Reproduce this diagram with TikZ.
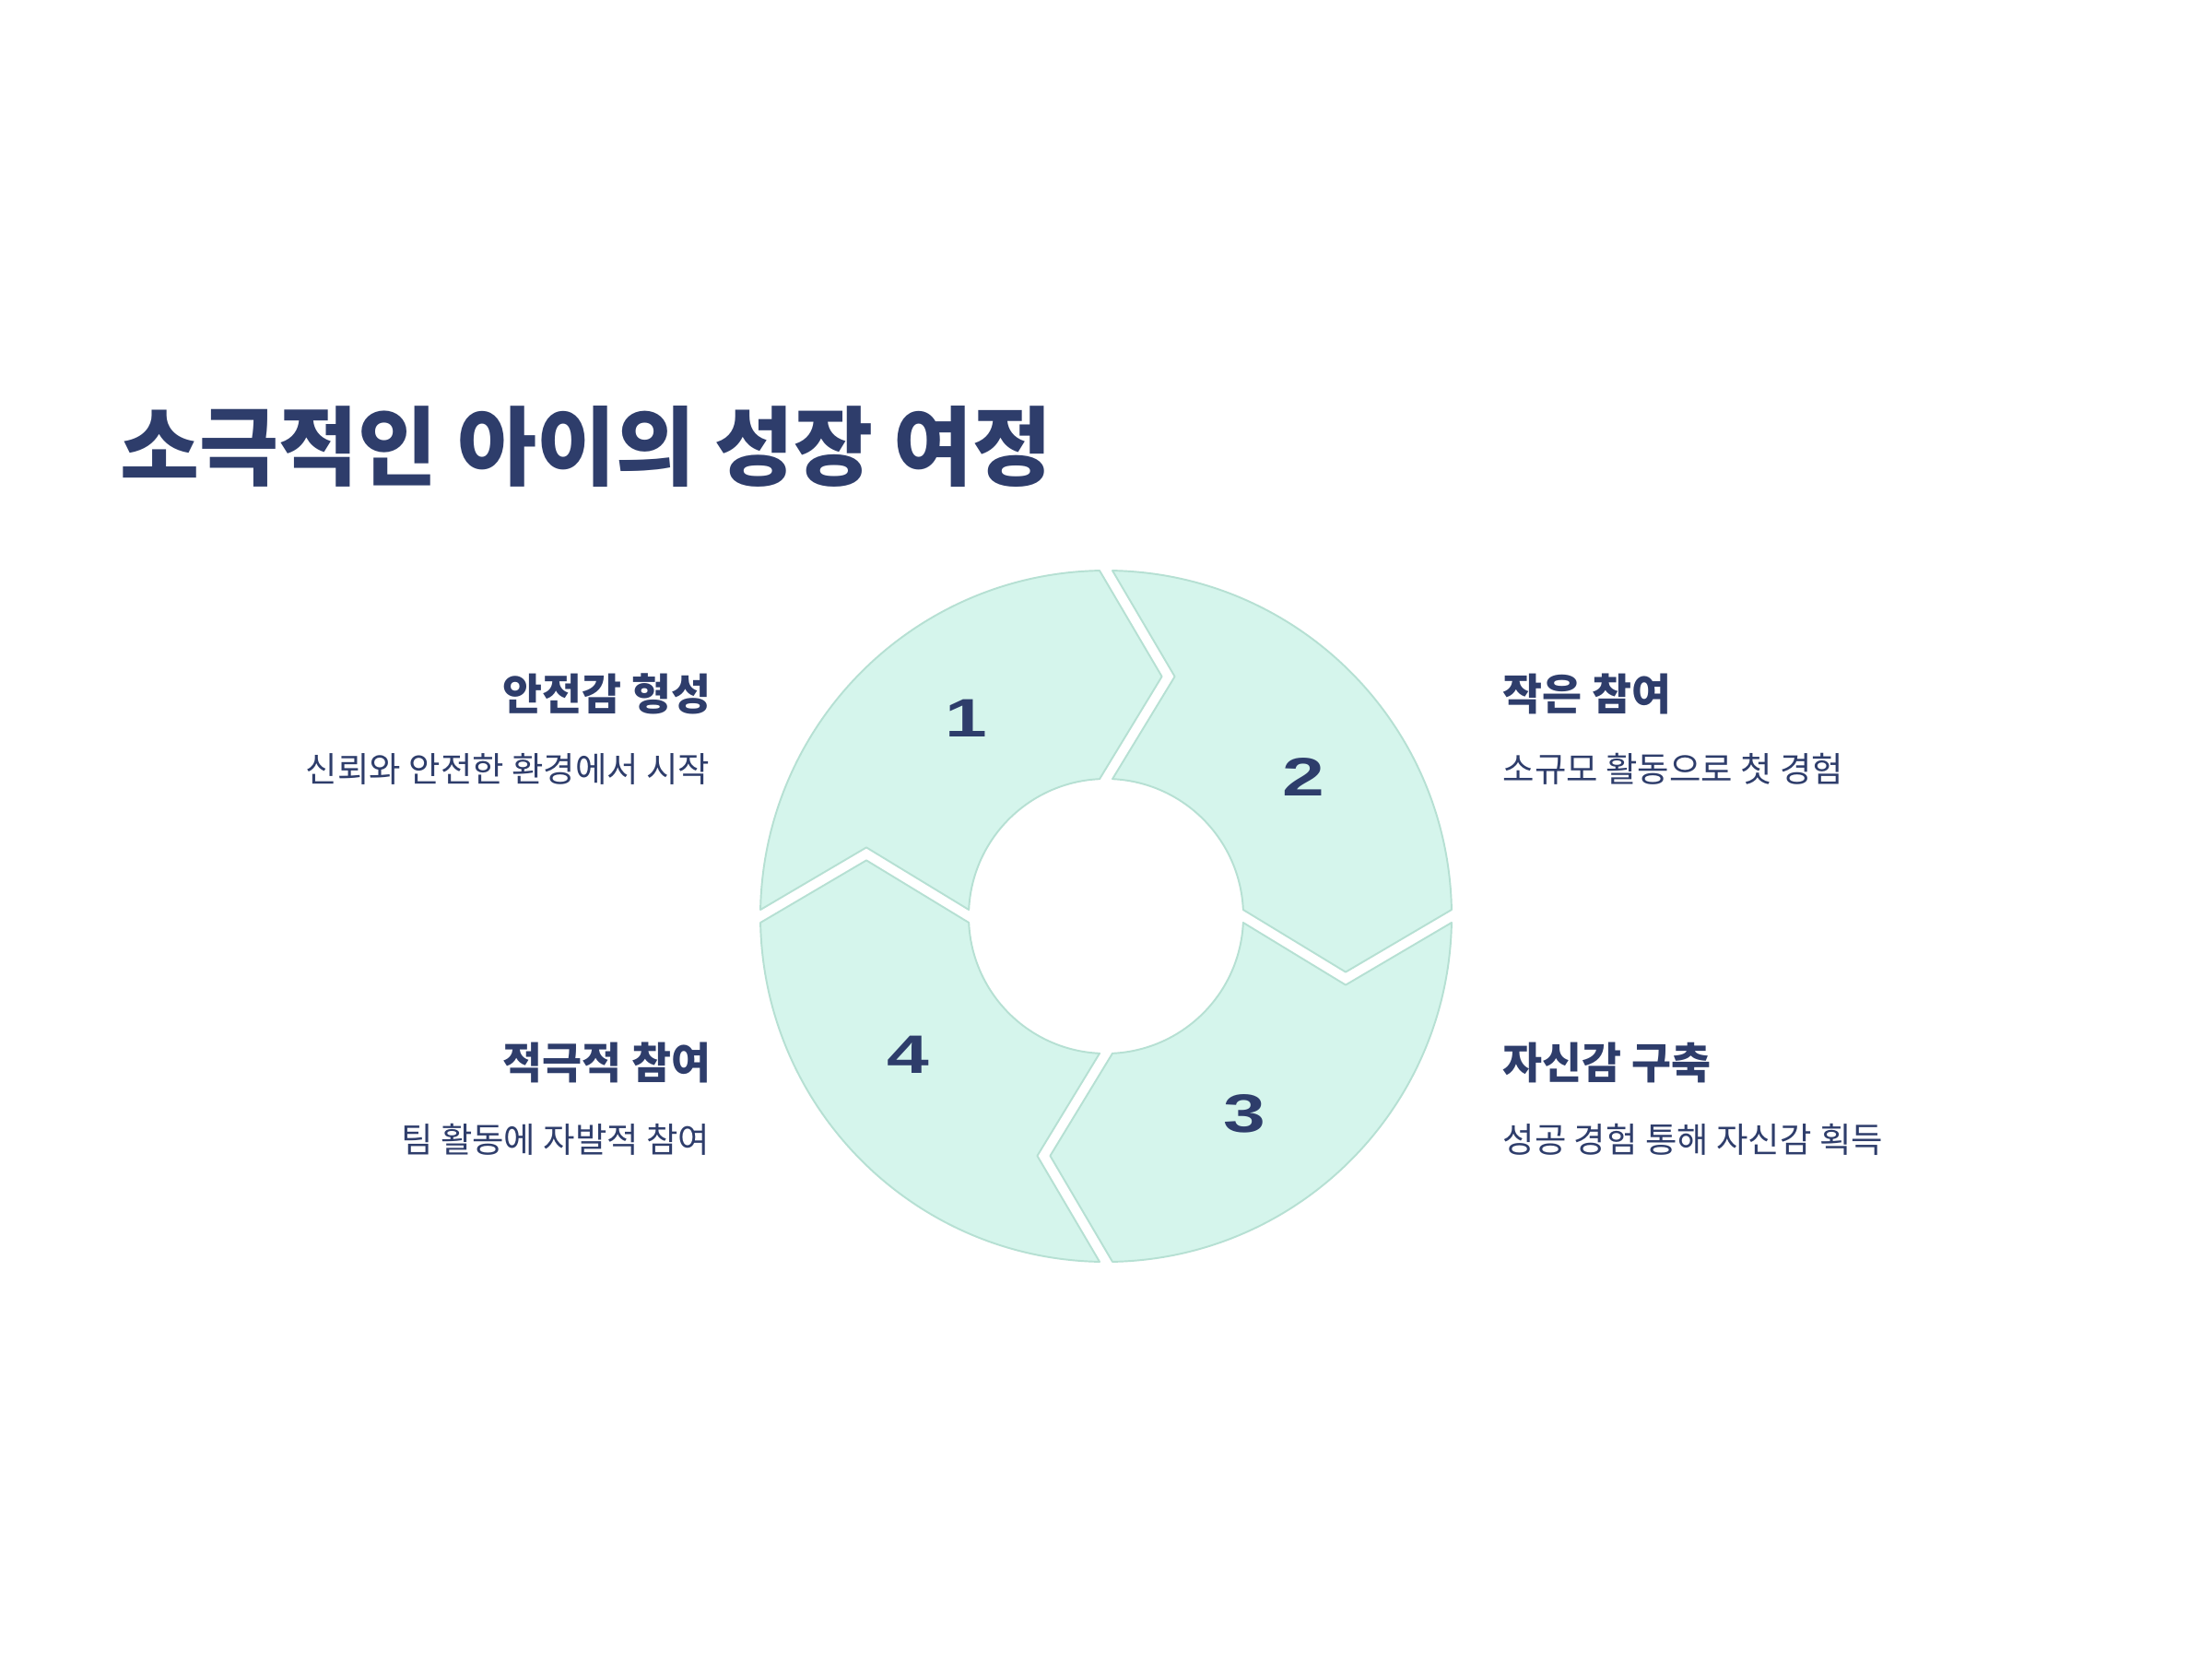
\documentclass[tikz,border=0pt]{standalone}
\usepackage{fontspec}
\setmainfont{Noto Sans CJK KR}
\newfontfamily\numfont{Liberation Sans}
\definecolor{navy}{HTML}{2E3D6B}
\definecolor{mint}{HTML}{D5F5EC}
\definecolor{mintline}{HTML}{B6E0D3}
\tikzset{
  seg/.style={fill=mint, draw=mintline, line width=0.55pt, line join=round},
  ttl/.style={inner sep=0pt, text=navy, font=\fontsize{26.6}{30}\selectfont\bfseries},
  head/.style={inner sep=0pt, text=navy, font=\fontsize{13.3}{16}\selectfont\bfseries},
  sub/.style={inner sep=0pt, text=navy, font=\fontsize{10.65}{13}\selectfont},
  num/.style={inner sep=0pt, text=navy, font=\numfont\fontsize{16.7}{20}\selectfont\bfseries}
}
\begin{document}
\begin{tikzpicture}
\useasboundingbox[fill=white] (0,0) rectangle (24,18);
% ring
\begin{scope}[shift={(12,8.06)}]
  \foreach \k in {0,1,2,3}{
    \begin{scope}[rotate=-90*\k]
      \path[seg] (177.31:1.49) -- (-2.60,0.746) -- (178.93:3.75)
        arc[start angle=178.93, end angle=91.07, radius=3.75]
        -- (0.606,2.60) -- (92.69:1.49)
        arc[start angle=92.69, end angle=177.31, radius=1.49] -- cycle;
    \end{scope}
  }
  \node[num] (n1) at (-1.515,2.145) {\scalebox{1.4}[1]{1}};
  \node[num] (n2) at (2.14,1.51) {\scalebox{1.4}[1]{2}};
  \node[num] (n3) at (1.505,-2.14) {\scalebox{1.4}[1]{3}};
  \node[num] (n4) at (-2.145,-1.50) {\scalebox{1.4}[1]{4}};
\end{scope}
% title
\node[ttl, anchor=west] (title) at (1.30,13.15) {소극적인 아이의 성장 여정};
% left labels
\node[head, anchor=east] (h1) at (7.72,10.47) {안전감 형성};
\node[sub, anchor=east] (s1) at (7.71,9.66) {신뢰와 안전한 환경에서 시작};
\node[head, anchor=east] (h4) at (7.72,6.47) {적극적 참여};
\node[sub, anchor=east] (s4) at (7.71,5.64) {팀 활동에 자발적 참여};
% right labels
\node[head, anchor=west] (h2) at (16.30,10.47) {작은 참여};
\node[sub, anchor=west] (s2) at (16.30,9.66) {소규모 활동으로 첫 경험};
\node[head, anchor=west] (h3) at (16.30,6.47) {자신감 구축};
\node[sub, anchor=west] (s3) at (16.30,5.64) {성공 경험 통해 자신감 획득};
\end{tikzpicture}
\end{document}
